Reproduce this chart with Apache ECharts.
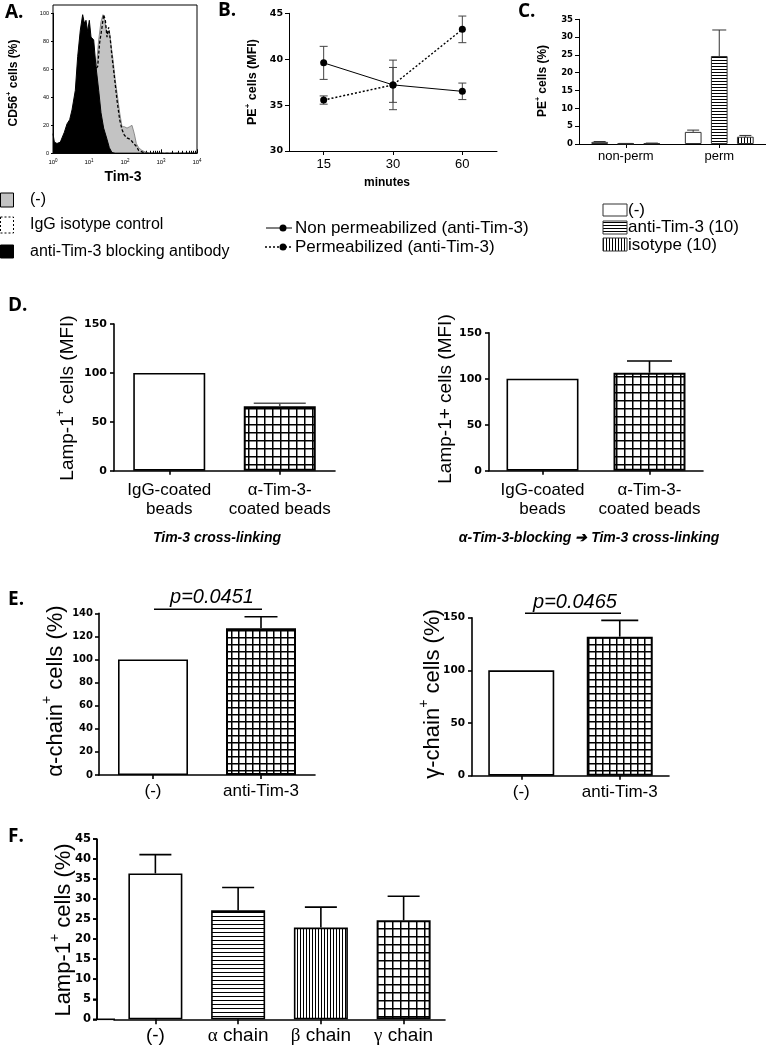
<!DOCTYPE html>
<html><head><meta charset="utf-8">
<script src="https://cdn.jsdelivr.net/npm/echarts@6/dist/echarts.min.js"></script>
<style>html,body{margin:0;padding:0;background:#fff}#c{width:766px;height:1048px}</style>
</head><body><div id="c"></div>
<script>
// ================= DATA =================
// Panel A: flow histograms, [log10(Tim-3 fluorescence), % of max]
const histNone = [[0,2],[0.39,6],[0.76,18],[1.04,40],[1.13,50],[1.204,62],[1.269,81],[1.333,94],[1.389,99],[1.435,95],[1.481,88],[1.528,89],[1.574,86],[1.62,76],[1.667,67],[1.731,52],[1.796,40],[1.852,29],[1.917,19],[1.981,19],[2.056,18],[2.13,19],[2.194,20],[2.259,14],[2.315,7],[2.38,4],[2.472,2],[2.611,0.5],[2.704,0],[4,0]];
const histIsotype = [[1.037,40],[1.13,52],[1.176,60],[1.241,62],[1.296,79],[1.361,90],[1.407,99],[1.454,95],[1.5,83],[1.546,90],[1.593,81],[1.639,69],[1.704,55],[1.778,38],[1.852,24],[1.917,17],[1.981,13],[2.056,11],[2.148,10],[2.241,7],[2.315,5],[2.38,2],[2.519,0.5],[2.611,0],[4,0]];
const histBlocking = [[0,14],[0.037,8],[0.111,7],[0.204,8],[0.25,11],[0.315,15],[0.389,21],[0.463,24],[0.528,31],[0.62,45],[0.685,69],[0.759,88],[0.824,99],[0.87,93],[0.917,95],[0.963,87],[1.009,95],[1.056,83],[1.13,81],[1.194,62],[1.269,45],[1.333,29],[1.407,18],[1.5,10],[1.565,4],[1.639,0.5],[1.731,0],[4,0]];
const aLegend = ['(-)','IgG isotype control','anti-Tim-3 blocking antibody'];

// Panel B
const bMinutes = ['15','30','60'];
const bNonPerm = [39.6, 37.2, 36.5];
const bNonPermErr = [1.8, 2.7, 0.9];
const bPerm = [35.55, 37.2, 43.25];
const bPermErr = [0.45, 1.9, 1.45];
const bLegend = ['Non permeabilized (anti-Tim-3)','Permeabilized (anti-Tim-3)'];

// Panel C
const cGroups = ['non-perm','perm'];
const cNone = [0.6, 3.4];   const cNoneErr = [0.1, 0.5];
const cAnti = [0.12, 24.7]; const cAntiErr = [0.04, 7.3];
const cIso  = [0.2, 2.05];  const cIsoErr  = [0.06, 0.35];
const cLegend = ['(-)','anti-Tim-3 (10)','isotype (10)'];

// Panel D
const dCats = ['IgG-coated\nbeads','α-Tim-3-\ncoated beads'];
const dLeft = [100, 66];    const dLeftErr = [0, 3];
const dRight = [100, 106.5]; const dRightErr = [0, 12.7];

// Panel E
const eCats = ['(-)','anti-Tim-3'];
const eAlpha = [100, 127];  const eAlphaErr = [0, 10];
const eGamma = [100, 132];  const eGammaErr = [0, 15.5];

// Panel F
const fCats = ['(-)','α chain','β chain','γ chain'];
const fVals = [36.4, 27.2, 22.9, 24.7];
const fErr = [4.7, 5.7, 5.1, 6.0];
const fTicks = [0, 5, 10, 15, 20, 25, 30, 35, 40, 45];

// ================= STYLES =================
const SANS = '"Liberation Sans", Arial, sans-serif';
const DJ = '"DejaVu Sans", sans-serif';
function makePattern(kind, step, lw) {
  const c = document.createElement('canvas');
  c.width = step; c.height = step;
  const g = c.getContext('2d');
  g.fillStyle = '#fff'; g.fillRect(0, 0, step, step);
  g.fillStyle = '#000';
  if (kind === 'h' || kind === 'grid') g.fillRect(0, 0, step, lw);
  if (kind === 'v' || kind === 'grid') g.fillRect(0, 0, lw, step);
  return { image: c, repeat: 'repeat' };
}
const whiteBar = { color: '#fff', borderColor: '#000', borderWidth: 1.6 };
const gridBar = (s) => ({ color: makePattern('grid', s, 1.5), borderColor: '#000', borderWidth: 2 });
const hBar = { color: makePattern('h', 4, 1), borderColor: '#000', borderWidth: 1.6 };
const vBar = { color: makePattern('v', 3, 1), borderColor: '#000', borderWidth: 1.6 };

function errUp(xi, yi, vals, errs, capW, offset, lw, color) {
  return {
    type: 'custom', xAxisIndex: xi, yAxisIndex: yi, z: 5, silent: true,
    data: vals.map((v, i) => [i, v, errs[i]]),
    renderItem(params, api) {
      const x = api.value(0), v = api.value(1), e = api.value(2);
      if (!e) return { type: 'group', children: [] };
      const p0 = api.coord([x, v]), p1 = api.coord([x, v + e]);
      const cx = p0[0] + (offset || 0);
      const st = { stroke: color || '#000', lineWidth: lw || 1.6 };
      return { type: 'group', children: [
        { type: 'line', shape: { x1: cx, y1: p0[1], x2: cx, y2: p1[1] }, style: st },
        { type: 'line', shape: { x1: cx - capW / 2, y1: p1[1], x2: cx + capW / 2, y2: p1[1] }, style: st }
      ]};
    }
  };
}
function errBoth(xi, yi, vals, errs, capW) {
  return {
    type: 'custom', xAxisIndex: xi, yAxisIndex: yi, z: 2, silent: true,
    data: vals.map((v, i) => [i, v, errs[i]]),
    renderItem(params, api) {
      const x = api.value(0), v = api.value(1), e = api.value(2);
      const p1 = api.coord([x, v + e]), p2 = api.coord([x, v - e]);
      const cx = p1[0];
      const st = { stroke: '#444', lineWidth: 1 };
      return { type: 'group', children: [
        { type: 'line', shape: { x1: cx, y1: p1[1], x2: cx, y2: p2[1] }, style: st },
        { type: 'line', shape: { x1: cx - capW / 2, y1: p1[1], x2: cx + capW / 2, y2: p1[1] }, style: st },
        { type: 'line', shape: { x1: cx - capW / 2, y1: p2[1], x2: cx + capW / 2, y2: p2[1] }, style: st }
      ]};
    }
  };
}

const axLine = (w) => ({ show: true, onZero: false, lineStyle: { color: '#000', width: w } });
function catX(grid, data, fs, margin, lw, extra) {
  return Object.assign({
    type: 'category', gridIndex: grid, data: data, boundaryGap: true, position: 'bottom',
    axisLine: axLine(lw), axisTick: { show: true, alignWithLabel: true, length: 4, lineStyle: { color: '#000', width: lw } },
    axisLabel: { color: '#000', fontSize: fs, fontFamily: SANS, margin: margin, interval: 0 },
    splitLine: { show: false }
  }, extra || {});
}
function valY(grid, min, max, interval, fs, margin, lw, offset) {
  return {
    type: 'value', gridIndex: grid, min: min, max: max, interval: interval, position: 'left', offset: offset || 0,
    axisLine: axLine(lw), axisTick: { show: true, length: 4, lineStyle: { color: '#000', width: lw } },
    axisLabel: { color: '#000', fontSize: fs, fontFamily: DJ, fontWeight: 'bold', margin: margin },
    splitLine: { show: false }
  };
}

// minor ticks for log axis
const minorTicks = [];
for (let d = 0; d < 4; d++) for (let k = 2; k <= 9; k++) minorTicks.push(d + Math.log10(k));

const greek = /^[αβγ]/;
function fLabel(t) {
  return greek.test(t) ? '{g|' + t[0] + '}' + t.slice(1) : t;
}

const F_GRID = { left: 114, top: 839, width: 331, height: 180.3 };

// ================= OPTION =================
const option = {
  animation: false,
  grid: [
    { left: 53, top: 13.3, width: 144, height: 140 },        // 0 A
    { left: 289, top: 13.3, width: 208, height: 137.7 },     // 1 B
    { left: 579, top: 19.3, width: 188, height: 124.7 },     // 2 C
    { left: 114, top: 324, width: 221, height: 146.7 },      // 3 D left
    { left: 489, top: 332.7, width: 214, height: 138 },      // 4 D right
    { left: 99, top: 613.3, width: 216, height: 161.7 },     // 5 E left
    { left: 472, top: 617.7, width: 197, height: 158 },      // 6 E right
    F_GRID                                                   // 7 F (y axis offset to x=97)
  ],
  xAxis: [
    { type: 'value', gridIndex: 0, min: 0, max: 4, interval: 1, position: 'bottom',
      axisLine: axLine(1), axisTick: { show: true, inside: true, length: 4, lineStyle: { color: '#000' } },
      axisLabel: { color: '#000', fontSize: 6, fontFamily: SANS, margin: 5, lineHeight: 9,
        formatter: (v) => '10{s|' + v + '}', rich: { s: { fontSize: 4.5, lineHeight: 5, verticalAlign: 'top', fontFamily: SANS } } },
      splitLine: { show: false } },
    { type: 'value', gridIndex: 0, min: 0, max: 4, position: 'bottom',
      axisLine: { show: false, onZero: false },
      axisTick: { show: true, inside: true, length: 2.5, customValues: minorTicks, lineStyle: { color: '#000' } },
      axisLabel: { show: false, customValues: minorTicks }, splitLine: { show: false } },
    catX(1, bMinutes, 13, 7, 1),
    catX(2, cGroups, 13, 6, 1),
    catX(3, dCats, 17, 10, 1.6, { axisLabel: { color: '#000', fontSize: 17, fontFamily: SANS, margin: 10, lineHeight: 19, interval: 0 } }),
    catX(4, dCats, 17, 10, 1.6, { axisLabel: { color: '#000', fontSize: 17, fontFamily: SANS, margin: 10, lineHeight: 19, interval: 0 } }),
    catX(5, eCats, 17, 8, 1.6),
    catX(6, eCats, 17, 8, 1.6),
    catX(7, fCats, 19, 7, 1.6, { axisLabel: { color: '#000', fontSize: 19, fontFamily: SANS, margin: 7, interval: 0,
      formatter: fLabel, rich: { g: { fontSize: 19, fontFamily: '"Liberation Serif", "DejaVu Serif", serif' } } },
      axisTick: { show: true, alignWithLabel: true, length: 5, lineStyle: { color: '#000', width: 1.6 } } })
  ],
  yAxis: [
    { type: 'value', gridIndex: 0, min: 0, max: 100, interval: 20, position: 'left',
      axisLine: axLine(1), axisTick: { show: true, length: 2, lineStyle: { color: '#000' } },
      axisLabel: { color: '#000', fontSize: 5.5, fontFamily: SANS, margin: 4 }, splitLine: { show: false } },
    valY(1, 30, 45, 5, 9.5, 6, 1),
    valY(2, 0, 35, 5, 8.5, 6, 1),
    valY(3, 0, 150, 50, 11, 7, 1.6),
    valY(4, 0, 150, 50, 11, 7, 1.6),
    valY(5, 0, 140, 20, 10, 6, 1.6),
    valY(6, 0, 150, 50, 10.5, 7, 1.6),
    valY(7, 0, 45, 5, 11.5, 6, 1.6, 17)
  ],
  series: [
    // ---- A ----
    { type: 'line', xAxisIndex: 0, yAxisIndex: 0, data: histNone, symbol: 'none', z: 2,
      lineStyle: { color: '#777', width: 0.8 }, areaStyle: { color: '#c3c3c3', opacity: 1 } },
    { type: 'line', xAxisIndex: 0, yAxisIndex: 0, data: histBlocking, symbol: 'none', z: 3,
      lineStyle: { color: '#000', width: 1 }, areaStyle: { color: '#000', opacity: 1 } },
    { type: 'line', xAxisIndex: 0, yAxisIndex: 0, data: histIsotype, symbol: 'none', z: 4,
      lineStyle: { color: '#000', width: 1.3, type: [3, 2] } },
    // ---- B ----
    errBoth(2, 1, bNonPerm, bNonPermErr, 8),
    errBoth(2, 1, bPerm, bPermErr, 8),
    { type: 'line', xAxisIndex: 2, yAxisIndex: 1, data: bNonPerm, symbol: 'circle', symbolSize: 7, z: 4,
      itemStyle: { color: '#000' }, lineStyle: { color: '#000', width: 1 } },
    { type: 'line', xAxisIndex: 2, yAxisIndex: 1, data: bPerm, symbol: 'circle', symbolSize: 7, z: 4,
      itemStyle: { color: '#000' }, lineStyle: { color: '#000', width: 1.5, type: [2, 2] } },
    // ---- C ----
    { type: 'bar', xAxisIndex: 3, yAxisIndex: 2, data: cNone, barWidth: 16.7, barGap: '56%',
      itemStyle: { color: '#fff', borderColor: '#333', borderWidth: 1 } },
    { type: 'bar', xAxisIndex: 3, yAxisIndex: 2, data: cAnti, barWidth: 16.7, barGap: '56%',
      itemStyle: { color: makePattern('h', 3, 1), borderColor: '#333', borderWidth: 1 } },
    { type: 'bar', xAxisIndex: 3, yAxisIndex: 2, data: cIso, barWidth: 16.7, barGap: '56%',
      itemStyle: { color: makePattern('v', 3, 1), borderColor: '#333', borderWidth: 1 } },
    errUp(3, 2, cNone, cNoneErr, 12, -26.1, 1, '#333'),
    errUp(3, 2, cAnti, cAntiErr, 14, 0, 1, '#333'),
    errUp(3, 2, cIso, cIsoErr, 12, 26.1, 1, '#333'),
    // ---- D ----
    { type: 'bar', xAxisIndex: 4, yAxisIndex: 3, barWidth: 72,
      data: dLeft.map((v, i) => ({ value: v, itemStyle: [whiteBar, gridBar(8)][i] })) },
    errUp(4, 3, dLeft, dLeftErr, 52, 0, 1.6, '#555'),
    { type: 'bar', xAxisIndex: 5, yAxisIndex: 4, barWidth: 72,
      data: dRight.map((v, i) => ({ value: v, itemStyle: [whiteBar, gridBar(8)][i] })) },
    errUp(5, 4, dRight, dRightErr, 45, 0, 1.6),
    // ---- E ----
    { type: 'bar', xAxisIndex: 6, yAxisIndex: 5, barWidth: 70,
      data: eAlpha.map((v, i) => ({ value: v, itemStyle: [whiteBar, gridBar(7)][i] })) },
    errUp(6, 5, eAlpha, eAlphaErr, 33, 0, 1.6),
    { type: 'bar', xAxisIndex: 7, yAxisIndex: 6, barWidth: 66,
      data: eGamma.map((v, i) => ({ value: v, itemStyle: [whiteBar, gridBar(7)][i] })) },
    errUp(7, 6, eGamma, eGammaErr, 37, 0, 1.6),
    // ---- F ----
    { type: 'bar', xAxisIndex: 8, yAxisIndex: 7, barWidth: 54,
      data: fVals.map((v, i) => ({ value: v, itemStyle: [whiteBar, hBar, vBar, gridBar(8)][i] })) },
    errUp(8, 7, fVals, fErr, 32, 0, 1.6)
  ],
  graphic: []
};

// ================= TEXT / LEGENDS =================
const G = option.graphic;
function txt(x, y, text, o) {
  o = o || {};
  G.push({ type: 'text', x: x, y: y, rotation: o.rot || 0, z: 100, silent: true,
    style: { text: text, fill: '#000', fontSize: o.fs || 12, fontFamily: o.ff || SANS,
      fontWeight: o.fw || 'normal', fontStyle: o.fst || 'normal',
      align: o.align || 'center', verticalAlign: o.va || 'middle',
      lineHeight: o.lh, rich: o.rich } });
}
function supRich(fs) { return { s: { fontSize: Math.round(fs * 0.62), lineHeight: Math.round(fs * 0.62), verticalAlign: 'top', fontFamily: SANS, fontWeight: 'bold' } }; }
function supRichN(fs) { return { s: { fontSize: Math.round(fs * 0.62), lineHeight: Math.round(fs * 0.62), verticalAlign: 'top', fontFamily: SANS } }; }
const R90 = Math.PI / 2;

// panel letters
[['A.', 5, 13], ['B.', 218, 11], ['C.', 518, 12], ['D.', 8, 306], ['E.', 8, 600], ['F.', 8, 837]].forEach(p =>
  txt(p[1], p[2], p[0], { fs: 19, fw: 'bold', align: 'left', ff: '"Open Sans", ' + SANS }));

// A
G.push({ type: 'rect', z: 50, silent: true, shape: { x: 53, y: 5, width: 144, height: 148.3 }, style: { fill: 'none', stroke: '#000', lineWidth: 1 } });
txt(14, 83, 'CD56{s|+} cells (%)', { fs: 12, fw: 'bold', rot: R90, lh: 17, rich: supRich(12) });
txt(123, 177, 'Tim-3', { fs: 14, fw: 'bold' });
G.push({ type: 'rect', z: 50, silent: true, shape: { x: 0.5, y: 193, width: 13, height: 14 }, style: { fill: '#c3c3c3', stroke: '#000', lineWidth: 1 } });
G.push({ type: 'rect', z: 50, silent: true, shape: { x: 0.5, y: 217, width: 13, height: 16 }, style: { fill: '#fff', stroke: '#000', lineWidth: 1, lineDash: [2, 2] } });
G.push({ type: 'rect', z: 50, silent: true, shape: { x: 0.5, y: 245, width: 13, height: 13 }, style: { fill: '#000', stroke: '#000', lineWidth: 1 } });
txt(30, 200, aLegend[0], { fs: 16, align: 'left' });
txt(30, 225, aLegend[1], { fs: 16, align: 'left' });
txt(30, 252, aLegend[2], { fs: 16, align: 'left' });

// B
txt(253, 82, 'PE{s|+} cells (MFI)', { fs: 12.5, fw: 'bold', rot: R90, lh: 18, rich: supRich(12.5) });
txt(387, 183, 'minutes', { fs: 12, fw: 'bold' });
G.push({ type: 'line', z: 50, silent: true, shape: { x1: 266, y1: 228, x2: 292, y2: 228 }, style: { stroke: '#000', lineWidth: 1 } });
G.push({ type: 'circle', z: 51, silent: true, shape: { cx: 283, cy: 228, r: 3.5 }, style: { fill: '#000' } });
G.push({ type: 'line', z: 50, silent: true, shape: { x1: 265, y1: 247, x2: 292, y2: 247 }, style: { stroke: '#000', lineWidth: 1.5, lineDash: [2, 2] } });
G.push({ type: 'circle', z: 51, silent: true, shape: { cx: 283, cy: 247, r: 3.5 }, style: { fill: '#000' } });
txt(295, 228, bLegend[0], { fs: 17, align: 'left' });
txt(295, 247, bLegend[1], { fs: 17, align: 'left' });

// C
txt(543, 81, 'PE{s|+} cells (%)', { fs: 12, fw: 'bold', rot: R90, lh: 17, rich: supRich(12) });
G.push({ type: 'rect', z: 50, silent: true, shape: { x: 603, y: 204, width: 24, height: 12 }, style: { fill: '#fff', stroke: '#333', lineWidth: 1 } });
G.push({ type: 'rect', z: 50, silent: true, shape: { x: 603, y: 221, width: 24, height: 13 }, style: { fill: makePattern('h', 3, 1), stroke: '#333', lineWidth: 1 } });
G.push({ type: 'rect', z: 50, silent: true, shape: { x: 603, y: 238, width: 24, height: 13 }, style: { fill: makePattern('v', 3, 1), stroke: '#333', lineWidth: 1 } });
txt(628, 210, cLegend[0], { fs: 17, align: 'left' });
txt(628, 227, cLegend[1], { fs: 17, align: 'left' });
txt(628, 245, cLegend[2], { fs: 17, align: 'left' });

// D
txt(68, 398, 'Lamp-1{s|+} cells (MFI)', { fs: 19, rot: R90, lh: 27, rich: supRichN(19) });
txt(446, 399, 'Lamp-1+ cells (MFI)', { fs: 19, rot: R90 });
txt(217, 538, 'Tim-3 cross-linking', { fs: 14, fw: 'bold', fst: 'italic' });
txt(589, 538, 'α-Tim-3-blocking ➔ Tim-3 cross-linking', { fs: 14, fw: 'bold', fst: 'italic' });

// E
txt(56, 691, 'α-chain{s|+} cells (%)', { fs: 22, rot: R90, lh: 31, rich: supRichN(22) });
txt(433, 694, 'γ-chain{s|+} cells (%)', { fs: 22, rot: R90, lh: 31, rich: supRichN(22) });
G.push({ type: 'line', z: 50, silent: true, shape: { x1: 154, y1: 609.3, x2: 262, y2: 609.3 }, style: { stroke: '#000', lineWidth: 1.5 } });
G.push({ type: 'line', z: 50, silent: true, shape: { x1: 525, y1: 613.3, x2: 621, y2: 613.3 }, style: { stroke: '#000', lineWidth: 1.5 } });
txt(212, 597, 'p=0.0451', { fs: 20, fst: 'italic' });
txt(575, 602, 'p=0.0465', { fs: 20, fst: 'italic' });

// F
txt(64, 930, 'Lamp-1{s|+} cells (%)', { fs: 22, rot: R90, lh: 31, rich: supRichN(22) });
// F: offset y-axis line (x=97), its ticks and the joint with the x axis, from the grid geometry
(function () {
  const xAx = F_GRID.left - 17;
  const yBot = F_GRID.top + F_GRID.height;
  const pxPer = F_GRID.height / 45;
  G.push({ type: 'line', z: 200, silent: true, shape: { x1: xAx, y1: F_GRID.top, x2: xAx, y2: yBot + 0.8 }, style: { stroke: '#000', lineWidth: 1.6 } });
  G.push({ type: 'line', z: 200, silent: true, shape: { x1: xAx - 0.8, y1: yBot, x2: F_GRID.left + 1, y2: yBot }, style: { stroke: '#000', lineWidth: 1.6 } });
  fTicks.forEach(v => {
    const y = yBot - v * pxPer;
    G.push({ type: 'line', z: 200, silent: true, shape: { x1: xAx - 4, y1: y, x2: xAx, y2: y }, style: { stroke: '#000', lineWidth: 1.6 } });
  });
})();

const chart = echarts.init(document.getElementById('c'), null, { renderer: 'canvas', width: 766, height: 1048 });
chart.setOption(option);
</script>
</body></html>
